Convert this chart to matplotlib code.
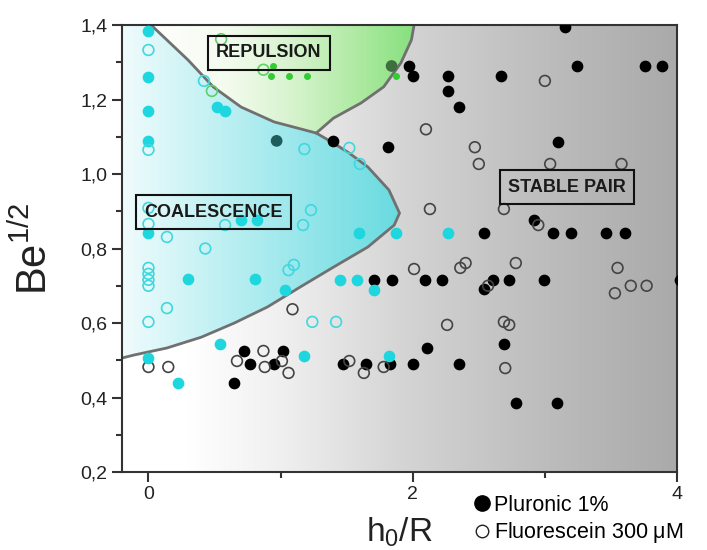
import numpy as np
import matplotlib
matplotlib.use("Agg")
import matplotlib.pyplot as plt
from matplotlib.colors import LinearSegmentedColormap
from matplotlib.patches import Polygon
from matplotlib.lines import Line2D

plt.rcParams['font.family'] = ['Liberation Sans', 'DejaVu Sans']
plt.rcParams['mathtext.fontset'] = 'custom'
plt.rcParams['mathtext.rm'] = 'Liberation Sans'
plt.rcParams['mathtext.it'] = 'Liberation Sans:italic'

# --- data (h0/R, Be^1/2) ---
pluronic_x = [3.15, 1.97, 2.00, 3.24, 3.76, 3.89, 2.27, 2.67, 2.27, 2.35, 3.10, 1.40, 1.81,
              2.92, 3.06, 3.20, 3.46, 3.61, 2.54, 2.09, 2.22, 2.54, 2.61, 2.73, 2.99, 4.02,
              1.71, 1.84, 2.11, 2.69, 2.00, 2.35, 2.78, 3.09, 0.65, 0.72, 0.77, 0.95, 1.02,
              1.47, 1.65, 1.83]
pluronic_y = [1.395, 1.29, 1.263, 1.29, 1.29, 1.29, 1.263, 1.263, 1.223, 1.18, 1.086, 1.089, 1.072,
              0.877, 0.842, 0.842, 0.842, 0.842, 0.842, 0.715, 0.715, 0.691, 0.715, 0.715, 0.715, 0.715,
              0.715, 0.715, 0.533, 0.544, 0.49, 0.49, 0.385, 0.385, 0.439, 0.525, 0.49, 0.49, 0.525,
              0.49, 0.49, 0.49]

fluo_x = [2.10, 3.00, 2.47, 2.50, 3.04, 3.58, 2.13, 2.69, 2.95, 2.01, 2.36, 2.40, 2.57, 2.78,
          3.55, 3.53, 3.65, 3.77, 2.26, 2.69, 2.73, 2.70, 1.09, 0.00, 0.15, 0.67, 0.87, 0.88,
          1.01, 1.06, 1.52, 1.63, 1.78]
fluo_y = [1.12, 1.25, 1.072, 1.027, 1.027, 1.027, 0.906, 0.906, 0.863, 0.745, 0.748, 0.761, 0.70, 0.761,
          0.748, 0.68, 0.70, 0.70, 0.595, 0.603, 0.595, 0.479, 0.637, 0.482, 0.482, 0.498, 0.525, 0.482,
          0.498, 0.466, 0.498, 0.466, 0.482]

coal_filled_x = [0.00, 0.00, 0.00, 0.00, 0.52, 0.58, 0.00, 0.70, 0.82, 1.59, 1.87, 2.27,
                 0.30, 0.81, 1.03, 1.45, 1.58, 1.71, 0.54, 0.00, 0.22, 1.18, 1.82]
coal_filled_y = [1.384, 1.26, 1.17, 1.089, 1.18, 1.17, 0.842, 0.876, 0.876, 0.842, 0.842, 0.842,
                 0.718, 0.718, 0.689, 0.715, 0.715, 0.689, 0.544, 0.506, 0.439, 0.511, 0.511]

coal_open_x = [0.00, 0.00, 0.42, 1.18, 1.52, 1.60, 0.00, 0.00, 0.14, 0.58, 1.23, 1.17,
               0.43, 0.00, 0.00, 0.00, 0.00, 1.06, 1.10, 0.00, 0.14, 1.24, 1.42]
coal_open_y = [1.333, 1.065, 1.25, 1.067, 1.07, 1.027, 0.909, 0.866, 0.831, 0.863, 0.903, 0.863,
               0.80, 0.748, 0.732, 0.716, 0.70, 0.742, 0.756, 0.603, 0.64, 0.603, 0.603]

rep_filled_x = [0.94, 0.93, 1.06, 1.20, 1.87]
rep_filled_y = [1.29, 1.263, 1.263, 1.263, 1.263]
rep_open_x = [0.55, 0.48, 0.87]
rep_open_y = [1.362, 1.223, 1.28]

# black points seen through the coloured overlays
shaded_x = [0.97, 1.84]
shaded_y = [1.089, 1.29]
shaded_colors = ['#1e5c5e', '#3f6e3f']

# region boundaries
coal_upper_x = [0.02, 0.30, 0.49, 0.70, 0.95, 1.27, 1.40, 1.52, 1.66, 1.82, 1.90]
coal_upper_y = [1.40, 1.306, 1.234, 1.18, 1.14, 1.11, 1.083, 1.056, 1.019, 0.957, 0.895]
coal_lower_x = [1.86, 1.66, 1.40, 1.15, 0.90, 0.65, 0.40, 0.14, -0.11, -0.20]
coal_lower_y = [0.863, 0.804, 0.75, 0.697, 0.643, 0.60, 0.562, 0.533, 0.514, 0.506]
rep_right_x = [1.27, 1.40, 1.61, 1.78, 1.91, 1.99, 2.01]
rep_right_y = [1.11, 1.15, 1.191, 1.234, 1.298, 1.36, 1.40]

xmin, xmax, ymin, ymax = -0.2, 4.0, 0.2, 1.4

fig = plt.figure(figsize=(7.07, 5.5), dpi=100)
ax = fig.add_axes([0.1726, 0.1418, 0.785, 0.8127])

grad = np.linspace(0, 1, 256).reshape(1, -1)
bg_cmap = LinearSegmentedColormap.from_list('bg', [(0, '#ffffff'), (0.12, '#ffffff'), (0.3, '#eeeeee'),
                                                   (0.52, '#d3d3d3'), (0.76, '#bdbdbd'), (1, '#aaaaaa')])
ax.imshow(grad, extent=[xmin, xmax, ymin, ymax], aspect='auto', cmap=bg_cmap, zorder=0)

# coalescence region
coal_poly = list(zip([-0.2] + coal_upper_x + coal_lower_x, [1.4] + coal_upper_y + coal_lower_y))
coal_patch = Polygon(coal_poly, closed=True, facecolor='none', edgecolor='none', transform=ax.transData)
ax.add_patch(coal_patch)
cyan_cmap = LinearSegmentedColormap.from_list('cy', [(0, '#f0fbfc'), (0.3, '#c6f2f4'),
                                                     (0.6, '#9ee8ec'), (1, '#68dbe0')])
im = ax.imshow(grad, extent=[-0.2, 1.9, ymin, ymax], aspect='auto', cmap=cyan_cmap, zorder=1)
im.set_clip_path(coal_patch)

# repulsion region
rep_poly = list(zip(coal_upper_x[:6] + rep_right_x[1:], coal_upper_y[:6] + rep_right_y[1:]))
rep_patch = Polygon(rep_poly, closed=True, facecolor='none', edgecolor='none', transform=ax.transData)
ax.add_patch(rep_patch)
green_cmap = LinearSegmentedColormap.from_list('gr', [(0, '#ffffff'), (0.3, '#f3fbee'), (0.55, '#d6f3cc'),
                                                      (0.8, '#ace9a0'), (1, '#86e07e')])
im2 = ax.imshow(grad, extent=[0.0, 2.02, ymin, ymax], aspect='auto', cmap=green_cmap, zorder=1)
im2.set_clip_path(rep_patch)

# boundary lines
ax.plot(coal_upper_x + coal_lower_x, coal_upper_y + coal_lower_y, color='#707070', lw=2, zorder=2)
ax.plot(rep_right_x, rep_right_y, color='#707070', lw=2, zorder=2)

# points
ax.scatter(pluronic_x, pluronic_y, s=55, color='black', zorder=4)
ax.scatter(fluo_x, fluo_y, s=60, facecolor='none', edgecolor='#444444', linewidth=1.2, zorder=4)
ax.scatter(coal_filled_x, coal_filled_y, s=55, color='#1ed6de', zorder=4)
ax.scatter(coal_open_x, coal_open_y, s=60, facecolor='none', edgecolor='#3fd8df', linewidth=1.2, zorder=4)
ax.scatter(rep_filled_x, rep_filled_y, s=16, color='#33cc33', zorder=4)
ax.scatter(rep_open_x, rep_open_y, s=60, facecolor='none', edgecolor='#5fcf6a', linewidth=1.2, zorder=4)
ax.scatter(shaded_x, shaded_y, s=55, c=shaded_colors, zorder=4)

# region labels
box = dict(boxstyle='square,pad=0.45', facecolor='none', edgecolor='#111111', linewidth=1.5)
label_kw = dict(fontsize=13, fontweight='bold', ha='center', va='center', color='#1a1a1a', bbox=box, zorder=5)
ax.text(0.91, 1.325, 'REPULSION', **label_kw)
ax.text(0.49, 0.898, 'COALESCENCE', **label_kw)
ax.text(3.17, 0.965, 'STABLE PAIR', **label_kw)

ax.set_xlim(xmin, xmax)
ax.set_ylim(ymin, ymax)

x_ticks = [0, 2, 4]
x_ticklabels = ['0', '2', '4']
y_ticks = [0.2, 0.4, 0.6, 0.8, 1.0, 1.2, 1.4]
y_ticklabels = ['0,2', '0,4', '0,6', '0,8', '1,0', '1,2', '1,4']
ax.set_xticks(x_ticks)
ax.set_xticklabels(x_ticklabels)
ax.set_xticks([1, 3], minor=True)
ax.set_yticks(y_ticks)
ax.set_yticklabels(y_ticklabels)
ax.set_yticks([0.3, 0.5, 0.7, 0.9, 1.1, 1.3], minor=True)
ax.tick_params(axis='both', which='major', direction='out', length=7, width=1.5,
               labelsize=14, color='#333333', labelcolor='#222222')
ax.tick_params(axis='x', which='major', pad=3)
ax.tick_params(axis='both', which='minor', direction='out', length=4, width=1.5, color='#333333')
for sp in ax.spines.values():
    sp.set_color('#333333')
    sp.set_linewidth(1.5)

ax.set_xlabel('h$_{\\mathrm{0}}$/R', fontsize=24, color='#222222', labelpad=9)
ax.set_ylabel('Be$^{\\mathrm{1/2}}$', fontsize=30, color='#222222', labelpad=18)

handles = [Line2D([], [], marker='o', ls='none', color='black', markersize=11),
           Line2D([], [], marker='o', ls='none', markerfacecolor='none', markeredgecolor='#222222',
                  markersize=9, markeredgewidth=1.0)]
fig.legend(handles, ['Pluronic 1%', 'Fluorescein 300 $\\mathrm{\\mu}$M'], loc='upper left',
           bbox_to_anchor=(0.668, 0.1), frameon=False, fontsize=15.5, handletextpad=0.1,
           handlelength=0.9, labelspacing=0.2, borderpad=0, borderaxespad=0)

fig.savefig('out.png', dpi=100)
